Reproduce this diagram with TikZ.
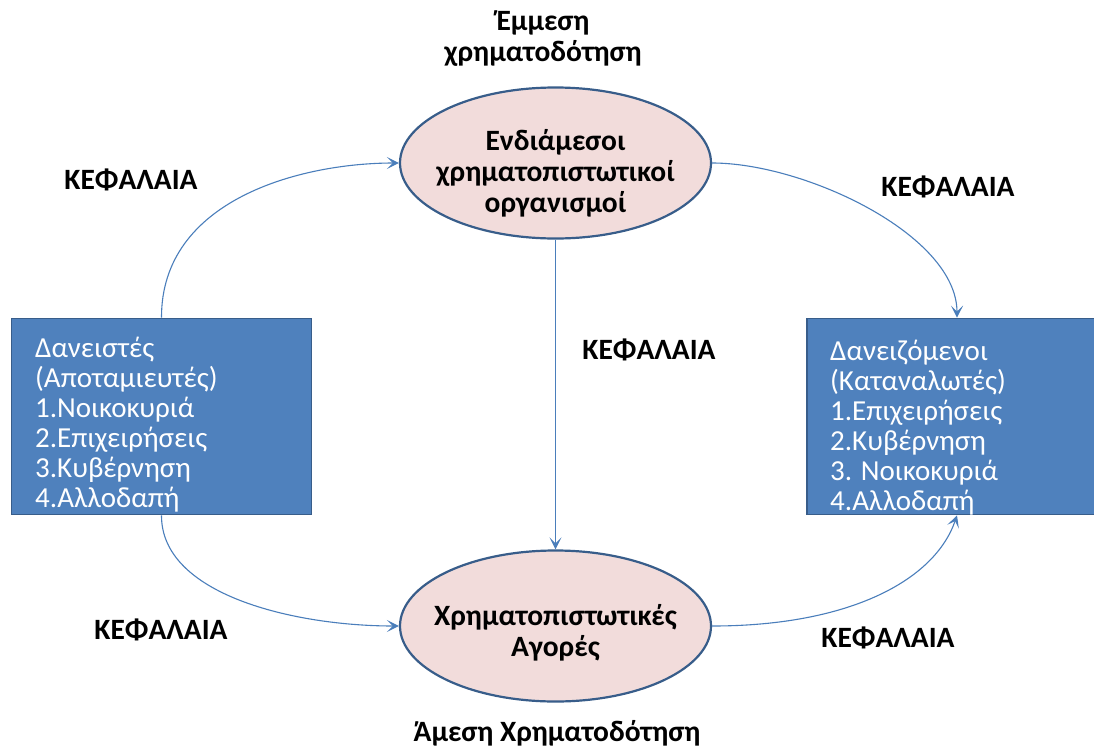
\documentclass[tikz,border=0pt]{standalone}
\usepackage{fontspec}
\setmainfont{Carlito}
\usetikzlibrary{shapes.geometric,arrows.meta}
\definecolor{boxfill}{HTML}{4F81BD}
\definecolor{boxline}{HTML}{385D8A}
\definecolor{ellfill}{HTML}{F2DCDB}
\definecolor{arrowc}{HTML}{4A7EBB}
\begin{document}
\begin{tikzpicture}[x=1pt,y=-1pt,
  ell/.style={ellipse, draw=boxline, line width=2.2pt, fill=ellfill, minimum width=311pt, minimum height=151pt, inner sep=0pt},
  elltext/.style={inner sep=0pt, align=center, font=\bfseries\fontsize{29.5}{31}\selectfont},
  box/.style={rectangle, draw=boxline, line width=1.6pt, fill=boxfill, minimum width=300pt, minimum height=196pt, inner sep=0pt},
  boxtext/.style={align=left, text=white, inner sep=0pt, font=\fontsize{29}{30}\selectfont},
  lab/.style={inner sep=0pt, font=\bfseries\fontsize{29.5}{31}\selectfont},
  conn/.style={draw=arrowc, line width=1.1pt, -{Stealth[length=12pt,width=12pt,inset=6pt]}}
]
\useasboundingbox (0,0) rectangle (1094,747);
\clip (0,0) rectangle (1094,747);
\fill[white] (0,0) rectangle (1094,747);

\node[box] (L) at (161.5,416.5) {};
\node[box] (R) at (957,416.5) {};
\node[boxtext, anchor=west] (Lt) at (35,425) {Δανειστές\\(Αποταμιευτές)\\1.Νοικοκυριά\\2.Επιχειρήσεις\\3.Κυβέρνηση\\4.Αλλοδαπή};
\node[boxtext, anchor=west] (Rt) at (830,428) {Δανειζόμενοι\\(Καταναλωτές)\\1.Επιχειρήσεις\\2.Κυβέρνηση\\3. Νοικοκυριά\\4.Αλλοδαπή};

\node[ell] (T) at (555.5,163) {};
\node[elltext, yshift=-10pt] (Tt) at (T.center) {Ενδιάμεσοι\\χρηματοπιστωτικοί\\οργανισμοί};
\node[ell] (B) at (555.5,626) {};
\node[elltext, yshift=-7pt] (Bt) at (B.center) {Χρηματοπιστωτικές\\Αγορές};

\node[lab, align=center] (top) at (543,39) {Έμμεση\\χρηματοδότηση};
\node[lab] (bot) at (557,733) {Άμεση Χρηματοδότηση};

\node[lab] (k1) at (131,180) {ΚΕΦΑΛΑΙΑ};
\node[lab] (k2) at (948,187) {ΚΕΦΑΛΑΙΑ};
\node[lab] (k3) at (649,350) {ΚΕΦΑΛΑΙΑ};
\node[lab] (k4) at (161,630) {ΚΕΦΑΛΑΙΑ};
\node[lab] (k5) at (888,638) {ΚΕΦΑΛΑΙΑ};

\draw[conn] (L.north) .. controls (161,200) and (300,163) .. (T.west);
\draw[conn] (T.east) .. controls (805,163) and (957,235) .. (R.north);
\draw[conn] (T.south) -- (B.north);
\draw[conn] (L.south) .. controls (161,595) and (295,626) .. (B.west);
\draw[conn] (B.east) .. controls (850,626) and (935,580) .. (R.south);
\end{tikzpicture}
\end{document}
